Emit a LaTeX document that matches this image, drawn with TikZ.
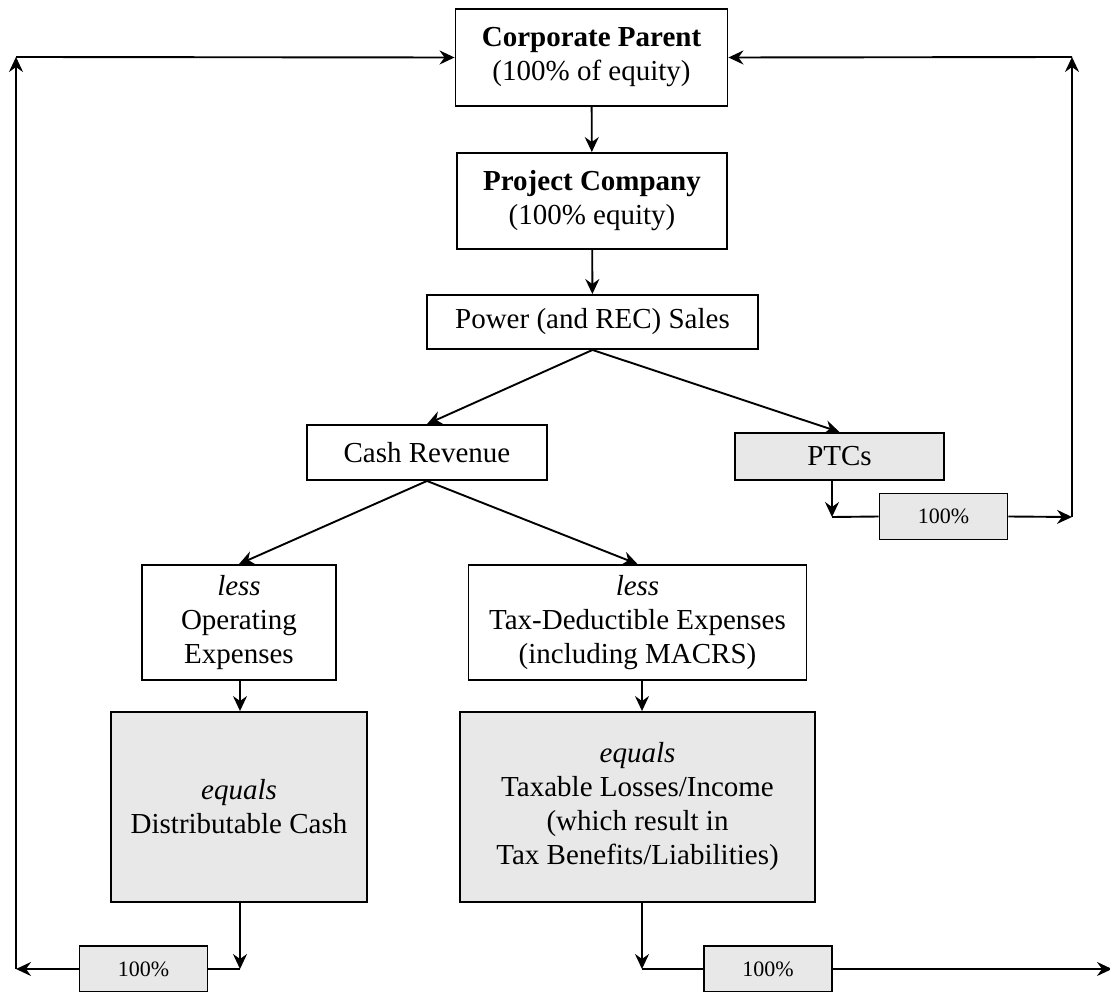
\documentclass[tikz,border=0pt]{standalone}
\usepackage{fontspec}
\setmainfont{Liberation Serif}
\usetikzlibrary{arrows.meta,calc}
\definecolor{boxgray}{HTML}{E8E8E8}
\begin{document}
\begin{tikzpicture}[x=1pt,y=-1pt,
  every node/.style={font=\fontsize{29}{34}\selectfont},
  box/.style={draw,line width=1.9pt,align=center,inner sep=0pt,anchor=center},
  gbox/.style={box,fill=boxgray},
  pct/.style={gbox,font=\fontsize{22}{26}\selectfont,minimum width=128pt,minimum height=46pt},
  arr/.style={line width=1.9pt,-{Stealth[length=15pt,width=14pt,inset=5pt]}},
  ln/.style={line width=1.9pt}]
\useasboundingbox (0,0) rectangle (1110,992);

\node[box,minimum width=272pt,minimum height=97pt] (CP) at (591.5,57.5) {\textbf{Corporate Parent}\\(100\% of equity)};
\node[box,minimum width=270pt,minimum height=96pt] (PC) at (592,201) {\textbf{Project Company}\\(100\% equity)};
\node[box,minimum width=331pt,minimum height=54pt] (PS) at (592.5,322) {Power (and REC) Sales};
\node[box,minimum width=240pt,minimum height=55pt] (CR) at (427,452.5) {Cash Revenue};
\node[gbox,minimum width=209pt,minimum height=47pt] (PTC) at (839.5,456.5) {PTCs};
\node[pct] (P1) at (943.5,516.5) {100\%};
\node[box,minimum width=194pt,minimum height=115pt] (OE) at (239,622.5) {\textit{less}\\Operating\\Expenses};
\node[box,minimum width=338pt,minimum height=115pt] (TD) at (637.5,622.5) {\textit{less}\\Tax-Deductible Expenses\\(including MACRS)};
\node[gbox,minimum width=256pt,minimum height=190pt] (DC) at (239,807) {\textit{equals}\\Distributable Cash};
\node[gbox,minimum width=355pt,minimum height=190pt] (TL) at (637.5,807) {\textit{equals}\\Taxable Losses/Income\\(which result in\\Tax Benefits/Liabilities)};
\node[pct] (B1) at (143.5,969) {100\%};
\node[pct] (B2) at (768,969) {100\%};

\coordinate (cL) at (16,969);
\coordinate (cLT) at (16,57);
\coordinate (cR) at (1072,517);
\coordinate (cRT) at (1072,57);
\coordinate (jL) at (240,969);
\coordinate (jR) at (832,517);
\coordinate (jB) at (642,969);
\coordinate (eB) at (1112,969);

\draw[arr] (CP) -- (PC);
\draw[arr] (PC) -- (PS);
\draw[arr] (PS.south) -- (CR.north);
\draw[arr] (PS.south) -- (PTC.north);
\draw[arr] (CR.south) -- (OE.north);
\draw[arr] (CR.south) -- (TD.north);
\draw[arr] (OE.south -| jL) -- (DC.north -| jL);
\draw[arr] (TD.south -| jB) -- (TL.north -| jB);

\draw[arr] (DC.south -| jL) -- (jL);
\draw[ln] (jL) -- (B1.east);
\draw[arr] (B1.west) -- (cL);
\draw[arr] (cL) -- (cLT);
\draw[arr] (cLT) -- (CP.west);

\draw[arr] (PTC.south -| jR) -- (jR);
\draw[ln] (jR) -- (P1.west);
\draw[arr] (P1.east) -- (cR);
\draw[arr] (cR) -- (cRT);
\draw[arr] (cRT) -- (CP.east);

\draw[arr] (TL.south -| jB) -- (jB);
\draw[ln] (jB) -- (B2.west);
\draw[arr] (B2.east) -- (eB);
\end{tikzpicture}
\end{document}
